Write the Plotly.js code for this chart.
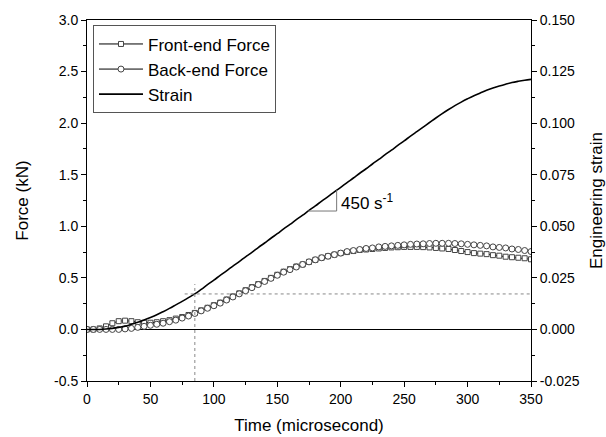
<!DOCTYPE html>
<html>
<head>
<meta charset="utf-8">
<script src="https://cdn.plot.ly/plotly-3.0.1.min.js"></script>
<style>html,body{margin:0;padding:0;background:#fff;}#chart{width:606px;height:437px;}</style>
</head>
<body>
<div id="chart"></div>
<script>
// time in microseconds (every 5 us)
const time = [0,5,10,15,20,25,30,35,40,45,50,55,60,65,70,75,80,85,90,95,100,105,110,115,120,125,130,135,140,145,150,155,160,165,170,175,180,185,190,195,200,205,210,215,220,225,230,235,240,245,250,255,260,265,270,275,280,285,290,295,300,305,310,315,320,325,330,335,340,345,350];
const frontForce = [0.0,0.0,0.01,0.03,0.06,0.08,0.085,0.08,0.07,0.065,0.065,0.07,0.08,0.09,0.105,0.12,0.14,0.16,0.185,0.21,0.235,0.26,0.29,0.32,0.35,0.38,0.41,0.44,0.47,0.50,0.53,0.56,0.585,0.61,0.63,0.655,0.675,0.695,0.71,0.725,0.74,0.75,0.76,0.77,0.775,0.78,0.785,0.79,0.795,0.797,0.80,0.80,0.80,0.798,0.795,0.79,0.785,0.78,0.77,0.76,0.75,0.74,0.735,0.73,0.72,0.715,0.705,0.70,0.695,0.69,0.68];
const backForce = [0,0,0,0,0,0,0.005,0.01,0.02,0.03,0.04,0.05,0.06,0.075,0.09,0.11,0.13,0.155,0.18,0.205,0.23,0.255,0.285,0.315,0.345,0.375,0.405,0.435,0.465,0.495,0.525,0.555,0.58,0.605,0.63,0.655,0.675,0.695,0.71,0.725,0.74,0.755,0.765,0.775,0.785,0.79,0.80,0.805,0.81,0.815,0.82,0.825,0.828,0.83,0.833,0.835,0.835,0.835,0.833,0.83,0.825,0.82,0.815,0.81,0.80,0.795,0.79,0.78,0.775,0.765,0.755];
const strain = [0,0,0,0.0002,0.0005,0.001,0.0016,0.0025,0.0035,0.0046,0.0058,0.0071,0.0086,0.0102,0.0119,0.0136,0.0154,0.0172,0.0194,0.0217,0.0239,0.0262,0.0284,0.0307,0.0329,0.0352,0.0374,0.0397,0.0419,0.0442,0.0464,0.0487,0.0509,0.0532,0.0554,0.0577,0.0599,0.0622,0.0644,0.0667,0.0689,0.0712,0.0734,0.0757,0.0779,0.0802,0.0824,0.0847,0.0869,0.0892,0.0914,0.0937,0.0959,0.0981,0.1003,0.1025,0.1046,0.1066,0.1085,0.1102,0.1118,0.1133,0.1146,0.1159,0.1170,0.1180,0.1189,0.1197,0.1203,0.1208,0.1212];

const forceTicks = [-0.5,0,0.5,1,1.5,2,2.5,3];
const forceTickText = ['-0.5','0.0','0.5','1.0','1.5','2.0','2.5','3.0'];
const strainTicks = [-0.025,0,0.025,0.05,0.075,0.1,0.125,0.15];
const strainTickText = ['-0.025','0.000','0.025','0.050','0.075','0.100','0.125','0.150'];

const font = 'Arial, "Liberation Sans", sans-serif';

const traces = [
  {x: time, y: frontForce, name: 'Front-end Force', type: 'scatter', mode: 'lines+markers',
   line: {color: '#000', width: 1},
   marker: {symbol: 'square', size: 5, color: '#fff', line: {color: '#444', width: 1}}},
  {x: time, y: backForce, name: 'Back-end Force', type: 'scatter', mode: 'lines+markers',
   line: {color: '#000', width: 1},
   marker: {symbol: 'circle', size: 6, color: '#fff', line: {color: '#444', width: 1}}},
  {x: time, y: strain, name: 'Strain', type: 'scatter', mode: 'lines', yaxis: 'y2',
   line: {color: '#000', width: 1.6, shape: 'spline'}}
];

const axisCommon = {
  showgrid: false, showline: true, linecolor: '#000', linewidth: 1,
  ticks: 'outside', ticklen: 5, tickcolor: '#000', tickwidth: 1,
  tickfont: {family: font, size: 14, color: '#000'}
};

const layout = {
  width: 606, height: 437,
  margin: {l: 87, r: 75, t: 20, b: 56, pad: 0},
  paper_bgcolor: '#fff', plot_bgcolor: '#fff',
  font: {family: font, color: '#000'},
  showlegend: true,
  legend: {x: 0.0135, y: 0.985, xanchor: 'left', yanchor: 'top',
    bgcolor: '#fff', bordercolor: '#555', borderwidth: 1,
    font: {family: font, size: 17, color: '#000'}, itemwidth: 44},
  xaxis: Object.assign({}, axisCommon, {
    range: [0, 350], dtick: 50, tick0: 0, zeroline: false, mirror: true,
    minor: {dtick: 25, ticks: 'outside', ticklen: 3, tickcolor: '#000'},
    title: {text: 'Time (microsecond)', font: {family: font, size: 17, color: '#000'}, standoff: 13}
  }),
  yaxis: Object.assign({}, axisCommon, {
    range: [-0.5, 3], tickvals: forceTicks, ticktext: forceTickText,
    zeroline: true, zerolinecolor: '#000', zerolinewidth: 1.5,
    minor: {tickvals: [-0.25,0.25,0.75,1.25,1.75,2.25,2.75], ticks: 'outside', ticklen: 3, tickcolor: '#000'},
    title: {text: 'Force (kN)', font: {family: font, size: 17, color: '#000'}, standoff: 21}
  }),
  yaxis2: Object.assign({}, axisCommon, {
    range: [-0.025, 0.15], tickvals: strainTicks, ticktext: strainTickText,
    overlaying: 'y', side: 'right', zeroline: false,
    minor: {tickvals: [-0.0125,0.0125,0.0375,0.0625,0.0875,0.1125,0.1375], ticks: 'outside', ticklen: 3, tickcolor: '#000'},
    title: {text: 'Engineering strain', font: {family: font, size: 17, color: '#000'}, standoff: 22}
  }),
  shapes: [
    {type: 'line', xref: 'x', yref: 'y', x0: 85, x1: 85, y0: -0.5, y1: 0.44,
     line: {color: '#888', width: 1, dash: 'dot'}},
    {type: 'line', xref: 'x', yref: 'y2', x0: 77, x1: 350, y0: 0.0172, y1: 0.0172,
     line: {color: '#888', width: 1, dash: 'dot'}},
    {type: 'line', xref: 'x', yref: 'y2', x0: 174.4, x1: 196.8, y0: 0.0574, y1: 0.0574,
     line: {color: '#777', width: 1}},
    {type: 'line', xref: 'x', yref: 'y2', x0: 196.8, x1: 196.8, y0: 0.0574, y1: 0.0675,
     line: {color: '#777', width: 1}}
  ],
  annotations: [
    {xref: 'x', yref: 'y2', x: 199, y: 0.0618, xanchor: 'left', yanchor: 'middle',
     text: '450 s<sup>-1</sup>', showarrow: false, font: {family: font, size: 17, color: '#000'}}
  ]
};

Plotly.newPlot('chart', traces, layout, {displayModeBar: false, staticPlot: true});
</script>
</body>
</html>
